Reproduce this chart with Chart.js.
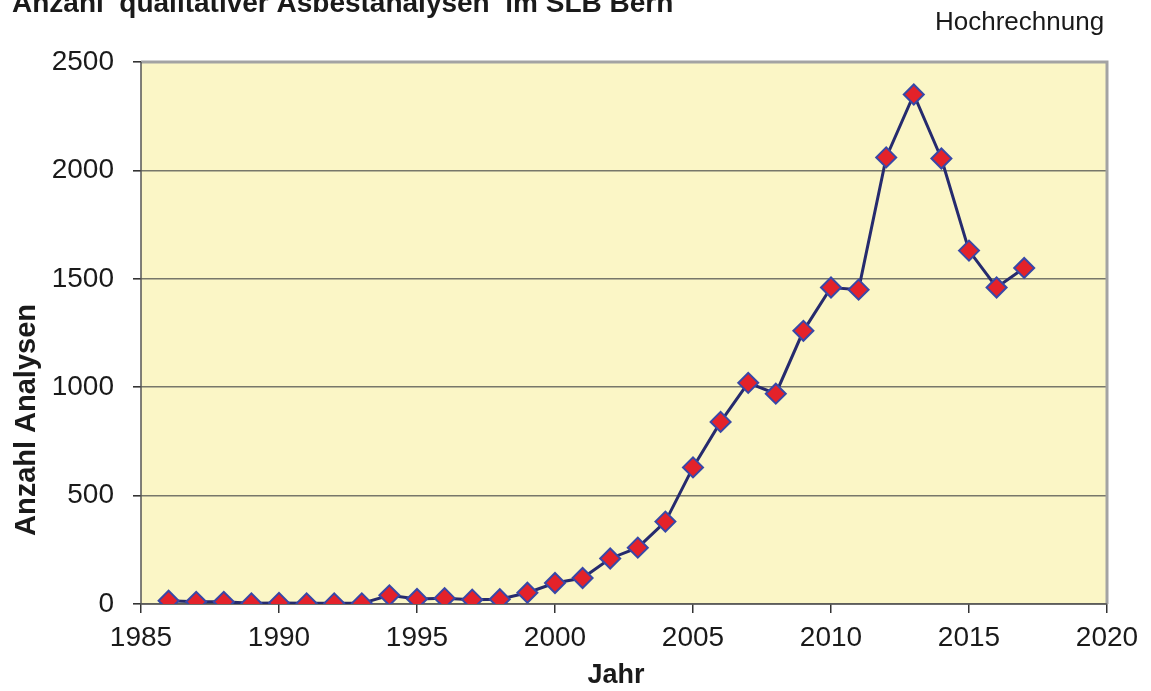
<!DOCTYPE html>
<html>
<head>
<meta charset="utf-8">
<script src="https://cdn.jsdelivr.net/npm/chart.js@4/dist/chart.umd.min.js"></script>
<style>
  html, body { margin: 0; padding: 0; background: #ffffff; }
  #wrap { width: 1151px; height: 691px; position: relative; }
</style>
</head>
<body>
<div id="wrap"><canvas id="c"></canvas></div>
<script>
const years = [1986,1987,1988,1989,1990,1991,1992,1993,1994,1995,1996,1997,1998,1999,2000,2001,2002,2003,2004,2005,2006,2007,2008,2009,2010,2011,2012,2013,2014,2015,2016,2017];
const analysen = [15,10,10,3,5,3,3,3,40,23,27,20,22,52,97,120,210,260,380,630,840,1020,970,1260,1460,1450,2060,2350,2055,1630,1460,1550];
const xTicks = [1985,1990,1995,2000,2005,2010,2015,2020];
const yTicks = [0,500,1000,1500,2000,2500];
const chartTitle = 'Anzahl  qualitativer Asbestanalysen  im SLB Bern';
const noteText = 'Hochrechnung';
const xTitle = 'Jahr';
const yTitle = 'Anzahl Analysen';

const FONT = "'Liberation Sans', Arial, sans-serif";

const decor = {
  id: 'decor',
  beforeDraw(chart) {
    const {ctx, chartArea: a} = chart;
    ctx.save();
    ctx.fillStyle = '#FBF6C6';
    ctx.fillRect(a.left, a.top, a.right - a.left, a.bottom - a.top);
    ctx.restore();
  },
  beforeDatasetsDraw(chart) {
    const {ctx, chartArea: a} = chart;
    ctx.save();
    ctx.strokeStyle = '#A3A3A3';
    ctx.lineWidth = 3;
    ctx.beginPath();
    ctx.moveTo(a.left, a.top);
    ctx.lineTo(a.right, a.top);
    ctx.lineTo(a.right, a.bottom);
    ctx.stroke();
    ctx.strokeStyle = '#555555';
    ctx.lineWidth = 1.5;
    ctx.beginPath();
    ctx.moveTo(a.left, a.top);
    ctx.lineTo(a.left, a.bottom);
    ctx.lineTo(a.right, a.bottom);
    ctx.stroke();
    ctx.restore();
  },
  afterDraw(chart) {
    const ctx = chart.ctx;
    ctx.save();
    ctx.fillStyle = '#1a1a1a';
    ctx.textBaseline = 'alphabetic';
    ctx.font = "bold 28px " + FONT;
    ctx.textAlign = 'left';
    ctx.fillText(chartTitle, 12, 12);
    ctx.font = "26px " + FONT;
    ctx.fillText(noteText, 935, 30);
    ctx.font = "bold 27px " + FONT;
    ctx.textAlign = 'center';
    ctx.fillText(xTitle, 616, 683);
    ctx.translate(35, 420);
    ctx.rotate(-Math.PI / 2);
    ctx.font = "bold 29px " + FONT;
    ctx.fillText(yTitle, 0, 0);
    ctx.restore();
  }
};

new Chart(document.getElementById('c'), {
  type: 'line',
  data: {
    datasets: [{
      data: years.map((y, i) => ({x: y, y: analysen[i]})),
      borderColor: '#262B6E',
      borderWidth: 3,
      pointStyle: 'rectRot',
      pointRadius: 10,
      pointBorderWidth: 2,
      pointBorderColor: '#3848A8',
      pointBackgroundColor: '#E4222A',
      tension: 0,
      fill: false
    }]
  },
  options: {
    responsive: true,
    maintainAspectRatio: false,
    animation: false,
    layout: { padding: { top: 62, right: 44, left: 0, bottom: 0 } },
    plugins: { legend: { display: false }, tooltip: { enabled: false }, title: { display: false } },
    scales: {
      x: {
        type: 'linear',
        min: 1985, max: 2020,
        afterFit(s) { s.height = 87; },
        afterBuildTicks(s) { s.ticks = xTicks.map(v => ({value: v})); },
        ticks: {
          callback: v => String(v),
          font: { family: FONT, size: 28 },
          color: '#1a1a1a',
          padding: 8,
          maxRotation: 0
        },
        grid: { drawOnChartArea: false, tickLength: 9, tickColor: '#333333', lineWidth: 1.5 },
        border: { display: false }
      },
      y: {
        min: 0, max: 2500,
        afterFit(s) { s.width = 141; },
        afterBuildTicks(s) { s.ticks = yTicks.map(v => ({value: v})); },
        ticks: {
          callback: v => String(v),
          font: { family: FONT, size: 28 },
          color: '#1a1a1a',
          padding: 19
        },
        grid: { color: '#77776A', lineWidth: 1.6, tickLength: 8, tickColor: '#333333' },
        border: { display: false }
      }
    }
  },
  plugins: [decor]
});
</script>
</body>
</html>
